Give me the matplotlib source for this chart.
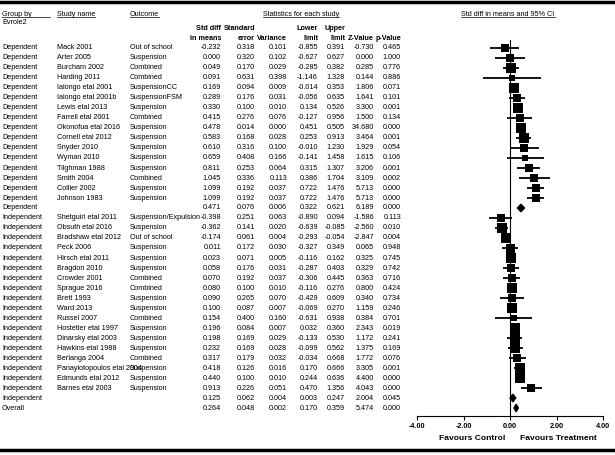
import matplotlib
matplotlib.use("Agg")
import matplotlib.pyplot as plt
from matplotlib.patches import Polygon
from matplotlib.lines import Line2D

plt.rcParams['font.family'] = ['Liberation Sans', 'DejaVu Sans']

groups = ["Dependent"] * 17 + ["Independent"] * 19 + ["Overall"]
studies = ["Mack 2001", "Arter 2005", "Burcham 2002", "Harding 2011", "Ialongo etal 2001",
           "Ialongo etal 2001b", "Lewis etal 2013", "Farrell etal 2001", "Okonofua etal 2016",
           "Cornell etal 2012", "Snyder 2010", "Wyman 2010", "Tilghman 1988", "Smith 2004",
           "Collier 2002", "Johnson 1983", "",
           "Shetguiri etal 2011", "Obsuth etal 2016", "Bradshaw etal 2012", "Peck 2006",
           "Hirsch etal 2011", "Bragdon 2010", "Crowder 2001", "Sprague 2016", "Brett 1993",
           "Ward 2013", "Russel 2007", "Hostetler etal 1997", "Dinarsky etal 2003",
           "Hawkins etal 1988", "Berlanga 2004", "Panayiotopoulos etal 2004",
           "Edmunds etal 2012", "Barnes etal 2003", "", ""]
outcomes = ["Out of school", "Suspension", "Combined", "Combined", "SuspensionCC",
            "SuspensionFSM", "Suspension", "Combined", "Suspension", "Suspension",
            "Suspension", "Suspension", "Suspension", "Combined", "Suspension", "Suspension", "",
            "Suspension/Expulsion", "Suspension", "Out of school", "Suspension", "Suspension",
            "Suspension", "Combined", "Combined", "Suspension", "Suspension", "Combined",
            "Suspension", "Suspension", "Suspension", "Combined", "Suspension", "Suspension",
            "Suspension", "", ""]
smd = [-0.232, 0.000, 0.049, 0.091, 0.169, 0.289, 0.330, 0.415, 0.478, 0.583, 0.610, 0.659,
       0.811, 1.045, 1.099, 1.099, 0.471,
       -0.398, -0.362, -0.174, 0.011, 0.023, 0.058, 0.070, 0.080, 0.090, 0.100, 0.154, 0.196,
       0.198, 0.232, 0.317, 0.418, 0.440, 0.913, 0.125, 0.264]
se = [0.318, 0.320, 0.170, 0.631, 0.094, 0.176, 0.100, 0.276, 0.014, 0.168, 0.316, 0.408,
      0.253, 0.336, 0.192, 0.192, 0.076,
      0.251, 0.141, 0.061, 0.172, 0.071, 0.176, 0.192, 0.100, 0.265, 0.087, 0.400, 0.084,
      0.169, 0.169, 0.179, 0.126, 0.100, 0.226, 0.062, 0.048]
variance = [0.101, 0.102, 0.029, 0.398, 0.009, 0.031, 0.010, 0.076, 0.000, 0.028, 0.100, 0.166,
            0.064, 0.113, 0.037, 0.037, 0.006,
            0.063, 0.020, 0.004, 0.030, 0.005, 0.031, 0.037, 0.010, 0.070, 0.007, 0.160, 0.007,
            0.029, 0.028, 0.032, 0.016, 0.010, 0.051, 0.004, 0.002]
lower = [-0.855, -0.627, -0.285, -1.146, -0.014, -0.056, 0.134, -0.127, 0.451, 0.253, -0.010,
         -0.141, 0.315, 0.386, 0.722, 0.722, 0.322,
         -0.890, -0.639, -0.293, -0.327, -0.116, -0.287, -0.306, -0.116, -0.429, -0.069, -0.631,
         0.032, -0.133, -0.099, -0.034, 0.170, 0.244, 0.470, 0.003, 0.170]
upper = [0.391, 0.627, 0.382, 1.328, 0.353, 0.635, 0.526, 0.956, 0.505, 0.913, 1.230, 1.458,
         1.307, 1.704, 1.476, 1.476, 0.621,
         0.094, -0.085, -0.054, 0.349, 0.162, 0.403, 0.445, 0.276, 0.609, 0.270, 0.938, 0.360,
         0.530, 0.562, 0.668, 0.666, 0.636, 1.356, 0.247, 0.359]
zval = [-0.730, 0.000, 0.285, 0.144, 1.806, 1.641, 3.300, 1.500, 34.680, 3.464, 1.929, 1.615,
        3.206, 3.109, 5.713, 5.713, 6.189,
        -1.586, -2.560, -2.847, 0.065, 0.325, 0.329, 0.363, 0.800, 0.340, 1.159, 0.384, 2.343,
        1.172, 1.375, 1.772, 3.305, 4.400, 4.043, 2.004, 5.474]
pval = [0.465, 1.000, 0.776, 0.886, 0.071, 0.101, 0.001, 0.134, 0.000, 0.001, 0.054, 0.106,
        0.001, 0.002, 0.000, 0.000, 0.000,
        0.113, 0.010, 0.004, 0.948, 0.745, 0.742, 0.716, 0.424, 0.734, 0.246, 0.701, 0.019,
        0.241, 0.169, 0.076, 0.001, 0.000, 0.000, 0.045, 0.000]
summary_rows = [16, 35, 36]
xticks = [-4, -2, 0, 2, 4]
xtick_labels = ["-4.00", "-2.00", "0.00", "2.00", "4.00"]

W, H = 615, 455
fig = plt.figure(figsize=(W / 100, H / 100), dpi=100)

n = len(smd)
row0_px, row_step = 48, 10
top_px, bot_px = 40, 416
ylo = (top_px - row0_px) / row_step
yhi = (bot_px - row0_px) / row_step

def fy(px):
    return 1 - px / H

# table axes (x in pixel columns, y in rows)
tab = fig.add_axes([0, fy(bot_px), 1, (bot_px - top_px) / H])
tab.set_xlim(0, W)
tab.set_ylim(yhi, ylo)
tab.axis('off')

FS = 5.2
col_right = [221, 255, 287, 318, 345, 374, 401]
for i in range(n):
    tab.text(2, i, groups[i], fontsize=FS, va='center', ha='left')
    tab.text(57, i, studies[i], fontsize=FS, va='center', ha='left')
    tab.text(130, i, outcomes[i], fontsize=FS, va='center', ha='left')
    vals = [smd[i], se[i], variance[i], lower[i], upper[i], zval[i], pval[i]]
    for xr, v in zip(col_right, vals):
        tab.text(xr, i, f"{v:.3f}", fontsize=FS, va='center', ha='right')

# headers (figure pixel coords)
def ftext(x, y, s, **kw):
    return fig.text(x / W, fy(y), s, **kw)

underline_items = []
underline_items.append((ftext(2, 14, "Group by", fontsize=FS, va='center', ha='left'), 50))
ftext(2, 22, "Evrole2", fontsize=FS, va='center', ha='left')
underline_items.append((ftext(57, 14, "Study name", fontsize=FS, va='center', ha='left'), None))
underline_items.append((ftext(130, 14, "Outcome", fontsize=FS, va='center', ha='left'), None))
underline_items.append((ftext(301, 14, "Statistics for each study", fontsize=FS, va='center', ha='center'), None))
underline_items.append((ftext(508, 14, "Std diff in means and 95% CI", fontsize=FS, va='center', ha='center'), None))

hdr_top = ["Std diff", "Standard", "", "Lower", "Upper", "", ""]
hdr_bot = ["in means", "error", "Variance", "limit", "limit", "Z-Value", "p-Value"]
for xr, t, b in zip(col_right, hdr_top, hdr_bot):
    if t:
        ftext(xr, 29, t, fontsize=FS, fontweight='bold', va='center', ha='right')
    ftext(xr, 38, b, fontsize=FS, fontweight='bold', va='center', ha='right')

# forest axes
x_left_px, x_right_px = 417, 603
fa = fig.add_axes([x_left_px / W, fy(bot_px), (x_right_px - x_left_px) / W, (bot_px - top_px) / H])
fa.set_xlim(-4, 4)
fa.set_ylim(yhi, ylo)
for s in ['top', 'right', 'left']:
    fa.spines[s].set_visible(False)
fa.spines['bottom'].set_linewidth(0.8)
fa.set_yticks([])
fa.set_xticks(xticks)
fa.set_xticklabels(xtick_labels, fontsize=FS, fontweight='bold')
fa.tick_params(axis='x', direction='out', length=3, width=0.8, pad=2)
fa.patch.set_alpha(0)
fa.axvline(0, color='black', lw=0.8)

tau2 = 0.1
for i in range(n):
    if i in summary_rows:
        h = 0.38
        poly = Polygon([(lower[i], i), (smd[i], i - h), (upper[i], i), (smd[i], i + h)],
                       closed=True, color='black')
        fa.add_patch(poly)
    else:
        fa.plot([lower[i], upper[i]], [i, i], color='black', lw=1.3, solid_capstyle='butt')
        w = 1.0 / (variance[i] + tau2)
        side_px = min(4.0 + 0.65 * w, 10.5)
        fa.plot([smd[i]], [i], marker='s', color='black', ms=side_px * 0.72, mew=0)

ftext(472, 438, "Favours Control", fontsize=6.1, fontweight='bold', va='center', ha='center')
ftext(558, 438, "Favours Treatment", fontsize=6.1, fontweight='bold', va='center', ha='center')

# underlines
fig.canvas.draw()
r = fig.canvas.get_renderer()
for t, xend in underline_items:
    bb = t.get_window_extent(r)
    x0 = bb.x0 / W
    x1 = (xend / W) if xend else bb.x1 / W
    yl = (bb.y0 + 0.5) / H
    fig.add_artist(Line2D([x0, x1], [yl, yl], transform=fig.transFigure, color='black', lw=0.5))

# thick top/bottom border lines
fig.add_artist(Line2D([0, 1], [fy(1.5), fy(1.5)], transform=fig.transFigure, color='black', lw=2.5))
fig.add_artist(Line2D([0, 1], [fy(450), fy(450)], transform=fig.transFigure, color='black', lw=2.5))

fig.savefig("out.png", dpi=100)
